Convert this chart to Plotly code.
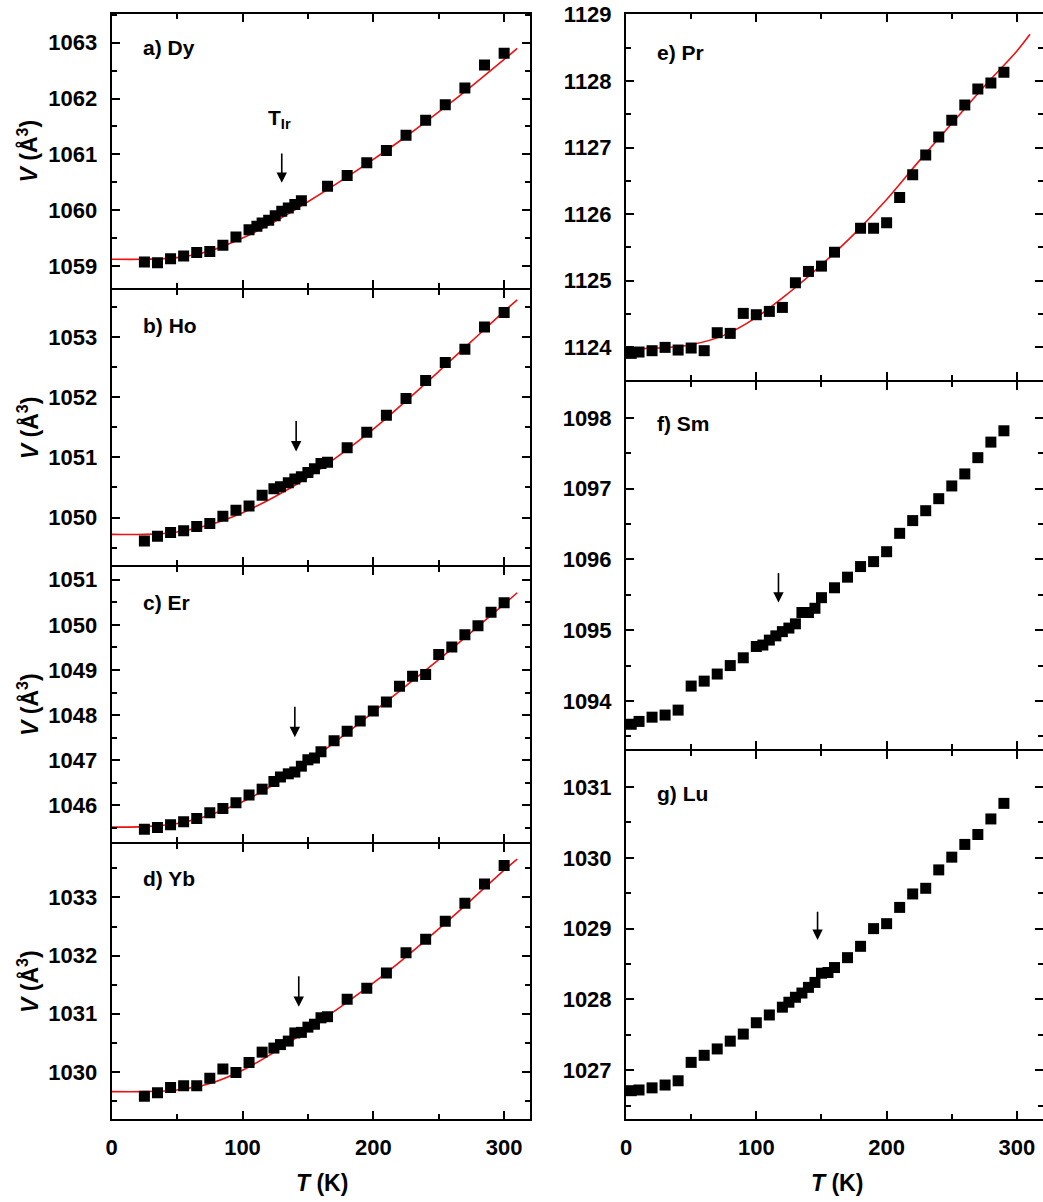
import plotly.graph_objects as go

W, H = 1043, 1202

# ---------------- data ----------------
T_a = [25, 35, 45, 55, 65, 75, 85, 95, 105, 111, 115, 120, 125, 130, 135, 140, 145,
       165, 180, 195, 210, 225, 240, 255, 270, 285, 300]
V_a = [1059.07, 1059.06, 1059.13, 1059.18, 1059.24, 1059.26, 1059.37, 1059.52, 1059.65,
       1059.71, 1059.77, 1059.82, 1059.90, 1059.98, 1060.04, 1060.10, 1060.17, 1060.43,
       1060.62, 1060.85, 1061.07, 1061.34, 1061.61, 1061.89, 1062.19, 1062.60, 1062.81]

T_b = [25, 35, 45, 55, 65, 75, 85, 95, 105, 115, 124, 129, 135, 140, 145, 150, 155, 160,
       165, 180, 195, 210, 225, 240, 255, 270, 285, 300]
V_b = [1049.61, 1049.69, 1049.75, 1049.78, 1049.85, 1049.90, 1050.02, 1050.12, 1050.19,
       1050.37, 1050.48, 1050.51, 1050.58, 1050.64, 1050.68, 1050.75, 1050.81, 1050.90,
       1050.92, 1051.16, 1051.42, 1051.70, 1051.98, 1052.28, 1052.58, 1052.80, 1053.17,
       1053.41]

T_c = [25, 35, 45, 55, 65, 75, 85, 95, 105, 115, 124, 129, 135, 140, 145, 150, 155, 160,
       170, 180, 190, 200, 210, 220, 230, 240, 250, 260, 270, 280, 290, 300]
V_c = [1045.47, 1045.51, 1045.57, 1045.64, 1045.71, 1045.84, 1045.93, 1046.06, 1046.23,
       1046.36, 1046.53, 1046.63, 1046.70, 1046.74, 1046.87, 1047.01, 1047.05, 1047.19,
       1047.43, 1047.64, 1047.87, 1048.09, 1048.29, 1048.64, 1048.86, 1048.90, 1049.34,
       1049.51, 1049.78, 1049.98, 1050.28, 1050.49]

T_d = [25, 35, 45, 55, 65, 75, 85, 95, 105, 115, 124, 129, 135, 140, 145, 150, 155, 160,
       165, 180, 195, 210, 225, 240, 255, 270, 285, 300]
V_d = [1029.58, 1029.64, 1029.73, 1029.76, 1029.76, 1029.89, 1030.05, 1029.99, 1030.16,
       1030.34, 1030.41, 1030.47, 1030.53, 1030.67, 1030.68, 1030.77, 1030.82, 1030.93,
       1030.95, 1031.25, 1031.44, 1031.70, 1032.05, 1032.28, 1032.59, 1032.90, 1033.23,
       1033.55]

T_e = [4, 10, 20, 30, 40, 50, 60, 70, 80, 90, 100, 110, 120, 130, 140, 150, 160, 180,
       190, 200, 210, 220, 230, 240, 250, 260, 270, 280, 290]
V_e = [1123.91, 1123.93, 1123.95, 1124.00, 1123.96, 1123.99, 1123.95, 1124.22, 1124.21,
       1124.51, 1124.49, 1124.54, 1124.60, 1124.97, 1125.14, 1125.22, 1125.43, 1125.79,
       1125.79, 1125.87, 1126.25, 1126.59, 1126.89, 1127.16, 1127.41, 1127.64, 1127.88,
       1127.97, 1128.13]

T_f = [4, 10, 20, 30, 40, 50, 60, 70, 80, 90, 100, 105, 110, 115, 120, 125, 130, 135,
       140, 145, 150, 160, 170, 180, 190, 200, 210, 220, 230, 240, 250, 260, 270, 280, 290]
V_f = [1093.67, 1093.71, 1093.77, 1093.80, 1093.87, 1094.21, 1094.28, 1094.38, 1094.50,
       1094.61, 1094.77, 1094.79, 1094.86, 1094.92, 1094.98, 1095.03, 1095.09, 1095.25,
       1095.25, 1095.31, 1095.46, 1095.60, 1095.75, 1095.90, 1095.97, 1096.11, 1096.37,
       1096.55, 1096.69, 1096.86, 1097.04, 1097.21, 1097.44, 1097.66, 1097.82]

T_g = [4, 10, 20, 30, 40, 50, 60, 70, 80, 90, 100, 110, 120, 125, 130, 135, 140, 145,
       150, 155, 160, 170, 180, 190, 200, 210, 220, 230, 240, 250, 260, 270, 280, 290]
V_g = [1026.71, 1026.72, 1026.75, 1026.79, 1026.85, 1027.11, 1027.21, 1027.30, 1027.41,
       1027.51, 1027.67, 1027.78, 1027.89, 1027.96, 1028.03, 1028.09, 1028.17, 1028.24,
       1028.37, 1028.38, 1028.45, 1028.59, 1028.75, 1029.00, 1029.07, 1029.30, 1029.49,
       1029.57, 1029.83, 1030.01, 1030.19, 1030.33, 1030.55, 1030.77]

# fitted curves
T_fit = [0, 25, 50, 75, 100, 125, 150, 175, 200, 225, 250, 275, 300, 310]
Vfit_a = [1059.12, 1059.12, 1059.15, 1059.27, 1059.50, 1059.80, 1060.15, 1060.52, 1060.91,
          1061.32, 1061.76, 1062.22, 1062.70, 1062.90]
Vfit_b = [1049.72, 1049.72, 1049.76, 1049.88, 1050.08, 1050.35, 1050.67, 1051.05, 1051.47,
          1051.94, 1052.43, 1052.93, 1053.43, 1053.62]
Vfit_c = [1045.52, 1045.53, 1045.60, 1045.79, 1046.08, 1046.48, 1046.96, 1047.50, 1048.07,
          1048.65, 1049.23, 1049.84, 1050.46, 1050.71]
Vfit_d = [1029.66, 1029.66, 1029.69, 1029.80, 1030.03, 1030.35, 1030.73, 1031.12, 1031.53,
          1031.98, 1032.46, 1032.96, 1033.47, 1033.66]
Vfit_e = [1123.98, 1123.99, 1124.04, 1124.18, 1124.45, 1124.82, 1125.24, 1125.70, 1126.22,
          1126.80, 1127.36, 1127.92, 1128.45, 1128.70]

panel_labels = ["a) Dy", "b) Ho", "c) Er", "d) Yb", "e) Pr", "f) Sm", "g) Lu"]

# arrow marks (T, tail V, tip V) per panel
arrows = {
    "a": (130, 1061.04, 1060.49),
    "b": (141, 1051.63, 1051.10),
    "c": (140, 1048.22, 1047.51),
    "d": (143, 1031.67, 1031.12),
    "f": (117, 1095.83, 1095.39),
    "g": (147, 1029.26, 1028.84),
}

y_ranges = {
    "a": [1058.60, 1063.52],
    "b": [1049.21, 1053.78],
    "c": [1045.19, 1051.28],
    "d": [1029.19, 1033.92],
    "e": [1123.51, 1129.01],
    "f": [1093.32, 1098.51],
    "g": [1026.31, 1031.51],
}

# ---------------- layout geometry (screen pixels) ----------------
def px_x(x):
    return x / W

def px_y(y):
    return 1 - y / H

LW = 2

panels = {
    # key: (x0, x1, ytop, ybot, axis index, xrange)
    "a": (111.7, 530.3, 13.7, 288.3, 1, [0, 320]),
    "b": (111.7, 530.3, 290.3, 565, 2, [0, 320]),
    "c": (111.7, 530.3, 567, 842, 3, [0, 320]),
    "d": (111.7, 530.3, 844, 1119, 4, [0, 320]),
    "e": (626, 1046, 13.7, 380, 5, [0, 320]),
    "f": (626, 1046, 382, 749, 6, [0, 320]),
    "g": (626, 1046, 751, 1119, 7, [0, 320]),
}

data = {
    "a": (T_a, V_a, Vfit_a), "b": (T_b, V_b, Vfit_b), "c": (T_c, V_c, Vfit_c),
    "d": (T_d, V_d, Vfit_d), "e": (T_e, V_e, Vfit_e), "f": (T_f, V_f, None),
    "g": (T_g, V_g, None),
}

FONT = "Liberation Sans"
tickfont = dict(family=FONT, size=22, color="black", weight="bold")

fig = go.Figure()
layout = dict(width=W, height=H, margin=dict(l=0, r=0, t=0, b=0, autoexpand=False),
              paper_bgcolor="white", plot_bgcolor="white", showlegend=False)
annotations = []

for key, (x0, x1, yt, yb, i, xr) in panels.items():
    xs = "x" if i == 1 else f"x{i}"
    ys = "y" if i == 1 else f"y{i}"
    T, V, Vfit = data[key]
    if Vfit is not None:
        fig.add_trace(go.Scatter(x=T_fit, y=Vfit, mode="lines", line_shape="spline",
                                 line=dict(color="#ee1111", width=1.6),
                                 xaxis=xs, yaxis=ys, hoverinfo="skip"))
    fig.add_trace(go.Scatter(x=T, y=V, mode="markers",
                             marker=dict(symbol="square", size=11, color="black",
                                         line=dict(width=0)),
                             xaxis=xs, yaxis=ys))
    bottom = key in ("d", "g")
    xa = dict(domain=[px_x(x0), min(1.0, px_x(x1))], range=xr, anchor=ys,
              automargin=False,
              showgrid=False, zeroline=False, showline=True, linecolor="black",
              linewidth=LW, mirror="allticks", ticks="inside", ticklen=8,
              tickwidth=2, tickcolor="black", dtick=100, tick0=0,
              minor=dict(dtick=50, ticks="inside", ticklen=5, tickwidth=1.6,
                         tickcolor="black", showgrid=False),
              showticklabels=bottom, tickfont=tickfont, ticklabelstandoff=8,
              ticklabeloverflow="allow")
    ya = dict(domain=[px_y(yb), px_y(yt)], range=y_ranges[key], anchor=xs,
              automargin=False,
              showgrid=False, zeroline=False, showline=True, linecolor="black",
              linewidth=LW, mirror="ticks",
              ticks="inside", ticklen=8, tickwidth=2, tickcolor="black",
              dtick=1, tick0=0,
              minor=dict(dtick=0.5, ticks="inside", ticklen=5, tickwidth=1.6,
                         tickcolor="black", showgrid=False),
              showticklabels=True, tickfont=tickfont, ticklabelstandoff=8,
              ticklabeloverflow="allow")
    layout["xaxis" if i == 1 else f"xaxis{i}"] = xa
    layout["yaxis" if i == 1 else f"yaxis{i}"] = ya

    if key in arrows:
        ta, v_tail, v_tip = arrows[key]
        annotations.append(dict(x=ta, y=v_tip, ax=ta, ay=v_tail, xref=xs, yref=ys,
                                axref=xs, ayref=ys, showarrow=True, arrowhead=2,
                                arrowsize=1.3, arrowwidth=1.6, arrowcolor="black",
                                text=""))

# panel labels
label_pos = {"a": (141, 48), "b": (141, 325), "c": (141, 602), "d": (141, 878),
             "e": (655, 53), "f": (655, 423), "g": (655, 793)}
for key, lab in zip(label_pos.keys(), panel_labels):
    lx, ly = label_pos[key]
    annotations.append(dict(x=px_x(lx), y=px_y(ly), xref="paper", yref="paper",
                            xanchor="left", yanchor="middle", showarrow=False,
                            text=lab, font=dict(family=FONT, size=21, color="black",
                                                weight="bold")))

# T_Ir label in panel a
annotations.append(dict(x=128, y=1061.64, xref="x", yref="y", showarrow=False,
                        text="T<sub>Ir</sub>",
                        font=dict(family=FONT, size=21, color="black", weight="bold")))

# y titles
for key in ("a", "b", "c", "d"):
    x0, x1, yt, yb, i, xr = panels[key]
    annotations.append(dict(x=px_x(27.5), y=px_y((yt + yb) / 2), xref="paper",
                            yref="paper", textangle=-90, showarrow=False,
                            xanchor="center", yanchor="middle",
                            text="<i>V</i> (Å<sup>3</sup>)",
                            font=dict(family=FONT, size=23, color="black",
                                      weight="bold")))
# x titles
for cx in (322, 837):
    annotations.append(dict(x=px_x(cx), y=px_y(1183), xref="paper", yref="paper",
                            showarrow=False, xanchor="center", yanchor="middle",
                            text="<i>T</i> (K)",
                            font=dict(family=FONT, size=23, color="black",
                                      weight="bold")))

layout["annotations"] = annotations
fig.update_layout(**layout)
fig.write_html(
    "out.html",
    config={"displayModeBar": False},
    post_script=("document.documentElement.style.overflow='hidden';"
                 "document.body.style.margin='0px';"
                 "document.body.style.overflow='hidden';"),
)
